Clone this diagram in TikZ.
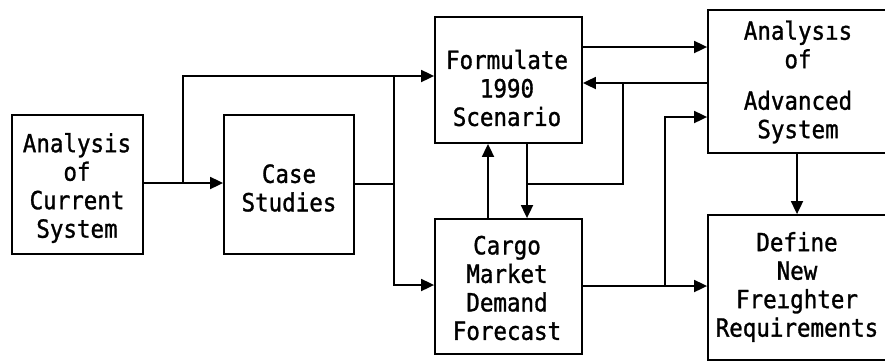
\documentclass[tikz,border=0pt]{standalone}
\usepackage{fontspec}
\setmonofont[FakeStretch=0.9, FakeBold=1.2]{DejaVu Sans Mono}
\usetikzlibrary{arrows.meta}
\tikzset{
  box/.style={draw, line width=1.8pt, inner sep=0pt},
  txt/.style={font=\ttfamily\fontsize{25}{28.5}\selectfont, align=center, inner sep=0pt},
  flow/.style={line width=1.8pt, -{Triangle[length=13pt,width=12pt]}},
  wire/.style={line width=1.8pt}
}
\begin{document}
\begin{tikzpicture}[x=1pt, y=-1pt]
\useasboundingbox (0,0) rectangle (885,362);
\clip (0,0) rectangle (885,362);

% boxes
\node[box, minimum width=131pt, minimum height=139pt] (cur)  at (77.5,184.5) {};
\node[box, minimum width=130pt, minimum height=139pt] (case) at (289,184.5) {};
\node[box, minimum width=147pt, minimum height=126pt] (form) at (508.5,80) {};
\node[box, minimum width=147pt, minimum height=135pt] (cargo) at (508.5,286.5) {};
\node[box, minimum width=180pt, minimum height=143pt] (adv)  at (798,81.5) {};
\node[box, minimum width=180pt, minimum height=145pt] (def)  at (798,287.5) {};

% texts
\node[txt] at (77,188) {Analysis\\of\\Current\\System};
\node[txt] at (289,188) {Case\\Studies};
\node[txt] at (507,88) {Formulate\\1990\\Scenario};
\node[txt] at (507,288) {Cargo\\Market\\Demand\\Forecast};
\node[txt] at (798,82) {Analysıs\\of\\[13pt]Advanced\\System};
\node[txt] at (797,287) {Define\\New\\Freıghter\\Requirements};

% junction points
\coordinate (j1) at (183,183);
\coordinate (j2) at (394,76);
\coordinate (j3) at (394,184);
\coordinate (j4) at (623,83);
\coordinate (j5) at (527,184);
\coordinate (j6) at (665,286);

% connectors
\draw[flow] (cur.east |- j1) -- (case.west |- j1);
\draw[flow] (j1) |- (form.west |- j2);
\draw[wire] (case.east |- j3) -- (j3);
\draw[flow] (j2) |- (cargo.west |- 0,285);
\draw[flow] (form.east |- 0,47) -- (adv.west |- 0,47);
\draw[flow] (adv.west |- j4) -- (form.east |- j4);
\draw[wire] (j4) |- (j5);
\draw[flow] (form.south -| j5) -- (cargo.north -| j5);
\draw[flow] (cargo.north -| 488,0) -- (form.south -| 488,0);
\draw[flow] (cargo.east |- j6) -- (def.west |- j6);
\draw[flow] (j6) |- (adv.west |- 0,117);
\draw[flow] (adv.south -| 797,0) -- (def.north -| 797,0);
\end{tikzpicture}
\end{document}
